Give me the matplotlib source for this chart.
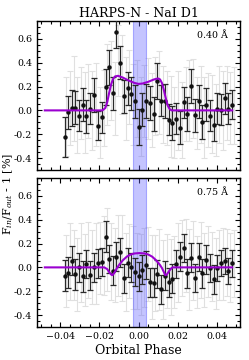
import matplotlib
matplotlib.use("Agg")
import matplotlib.pyplot as plt
from matplotlib.ticker import MultipleLocator, FuncFormatter

plt.rcParams['font.family'] = ['DejaVu Serif']
plt.rcParams['mathtext.fontset'] = 'dejavuserif'

# ---- data ----
phase = [-0.0379, -0.0361, -0.0342, -0.0323, -0.0304, -0.0285, -0.0267, -0.0248,
         -0.0229, -0.0208, -0.0188, -0.0169, -0.0150, -0.0132, -0.0113, -0.0094,
         -0.0075, -0.0056, -0.0038, -0.0017, 0.0002, 0.0019, 0.0039, 0.0058,
         0.0077, 0.0097, 0.0116, 0.0135, 0.0154, 0.0173, 0.0191, 0.0212,
         0.0231, 0.0250, 0.0270, 0.0289, 0.0308, 0.0327, 0.0345, 0.0366,
         0.0385, 0.0404, 0.0422, 0.0441, 0.0460, 0.0481]

top_val = [-0.224, -0.017, 0.017, 0.022, -0.044, 0.047, -0.050, 0.014,
           0.130, -0.127, -0.058, 0.196, 0.360, 0.144, 0.655, 0.401,
           0.119, 0.186, 0.141, 0.075, -0.138, 0.006, 0.080, 0.061,
           -0.030, 0.249, 0.080, 0.080, -0.077, -0.105, -0.069, -0.146,
           0.069, -0.030, 0.205, -0.041, 0.075, -0.096, 0.047, -0.044,
           -0.124, 0.012, 0.006, 0.103, 0.012, 0.047]
top_err = [0.17, 0.14, 0.15, 0.14, 0.13, 0.14, 0.14, 0.13,
           0.14, 0.12, 0.13, 0.15, 0.15, 0.14, 0.13, 0.14,
           0.14, 0.14, 0.14, 0.14, 0.15, 0.14, 0.14, 0.14,
           0.14, 0.15, 0.13, 0.14, 0.13, 0.14, 0.13, 0.14,
           0.13, 0.14, 0.14, 0.14, 0.14, 0.14, 0.14, 0.13,
           0.13, 0.13, 0.13, 0.13, 0.13, 0.12]

bot_val = [-0.070, -0.047, 0.056, -0.056, 0.000, -0.075, 0.028, -0.066,
           0.000, 0.035, 0.045, 0.258, 0.070, -0.028, 0.089, 0.125,
           -0.092, 0.040, 0.000, -0.040, -0.075, -0.020, 0.020, -0.125,
           -0.128, -0.055, -0.183, -0.070, -0.125, -0.095, 0.030, 0.090,
           0.162, -0.050, 0.082, -0.090, 0.086, -0.050, 0.065, -0.005,
           -0.100, -0.006, 0.040, 0.055, -0.028, 0.033]
bot_err = [0.13, 0.13, 0.12, 0.13, 0.12, 0.13, 0.12, 0.12,
           0.12, 0.12, 0.12, 0.13, 0.12, 0.12, 0.12, 0.12,
           0.12, 0.12, 0.12, 0.12, 0.12, 0.12, 0.12, 0.12,
           0.12, 0.12, 0.12, 0.12, 0.12, 0.12, 0.12, 0.12,
           0.12, 0.12, 0.12, 0.12, 0.12, 0.12, 0.12, 0.12,
           0.12, 0.11, 0.11, 0.11, 0.11, 0.11]

grey_phase = [-0.0370, -0.0352, -0.0333, -0.0314, -0.0295, -0.0276, -0.0258, -0.0239,
              -0.0219, -0.0198, -0.0179, -0.0160, -0.0141, -0.0122, -0.0104, -0.0085,
              -0.0066, -0.0047, -0.0028, -0.0008, 0.0011, 0.0029, 0.0049, 0.0068,
              0.0087, 0.0107, 0.0126, 0.0145, 0.0164, 0.0182, 0.0201, 0.0222,
              0.0241, 0.0260, 0.0280, 0.0299, 0.0318, 0.0336, 0.0355, 0.0376,
              0.0395, 0.0413, 0.0432, 0.0451, 0.0470, 0.0490]
grey_top = [-0.05, 0.02, 0.10, -0.04, 0.06, -0.02, 0.08, 0.00,
            0.05, -0.10, 0.02, 0.22, 0.25, 0.10, 0.42, 0.30,
            0.10, 0.20, 0.05, 0.10, -0.05, 0.08, 0.10, 0.00,
            0.12, 0.15, 0.05, 0.02, -0.05, -0.10, 0.00, -0.08,
            0.05, 0.08, 0.10, -0.02, 0.05, -0.06, 0.00, -0.03,
            -0.08, 0.05, 0.00, 0.06, 0.02, 0.04]
grey_top_err = [0.33, 0.31, 0.36, 0.32, 0.30, 0.34, 0.31, 0.33,
                0.35, 0.30, 0.32, 0.34, 0.33, 0.31, 0.30, 0.33,
                0.35, 0.31, 0.34, 0.32, 0.33, 0.30, 0.34, 0.31,
                0.33, 0.35, 0.32, 0.31, 0.34, 0.30, 0.33, 0.32,
                0.31, 0.34, 0.33, 0.30, 0.32, 0.34, 0.31, 0.33,
                0.30, 0.32, 0.33, 0.31, 0.30, 0.32]
grey_bot = [-0.03, 0.05, 0.02, -0.06, 0.04, -0.02, 0.06, 0.00,
            0.03, 0.08, 0.10, 0.15, 0.05, 0.02, 0.10, 0.08,
            -0.04, 0.05, 0.00, -0.03, -0.06, 0.00, 0.03, -0.08,
            -0.05, -0.02, -0.10, -0.03, -0.08, -0.04, 0.04, 0.08,
            0.10, -0.02, 0.06, -0.04, 0.06, -0.02, 0.05, 0.01,
            -0.05, 0.02, 0.03, 0.04, 0.00, 0.03]
grey_bot_err = [0.30, 0.32, 0.29, 0.31, 0.33, 0.30, 0.32, 0.31,
                0.34, 0.30, 0.33, 0.35, 0.32, 0.31, 0.34, 0.36,
                0.33, 0.31, 0.35, 0.32, 0.34, 0.33, 0.31, 0.35,
                0.32, 0.34, 0.33, 0.31, 0.32, 0.30, 0.33, 0.32,
                0.31, 0.34, 0.33, 0.30, 0.32, 0.31, 0.30, 0.29,
                0.30, 0.29, 0.30, 0.28, 0.29, 0.28]

model_top_x = [-0.048, -0.0185, -0.017, -0.016, -0.015, -0.014, -0.013, -0.012,
               -0.0105, -0.008, -0.005, -0.002, 0.000, 0.002, 0.005, 0.008,
               0.010, 0.011, 0.012, 0.013, 0.014, 0.015, 0.016, 0.017, 0.048]
model_top_y = [0.0, 0.0, 0.02, 0.07, 0.15, 0.22, 0.265, 0.285,
               0.29, 0.275, 0.25, 0.23, 0.222, 0.225, 0.24, 0.26,
               0.268, 0.26, 0.23, 0.17, 0.10, 0.04, 0.01, 0.0, 0.0]
model_bot_x = [-0.048, -0.0175, -0.016, -0.015, -0.014, -0.0135, -0.013, -0.012,
               -0.011, -0.010, -0.008, -0.006, -0.004, -0.002, 0.0005, 0.003,
               0.005, 0.007, 0.009, 0.011, 0.012, 0.013, 0.0137, 0.0145,
               0.0155, 0.0165, 0.0175, 0.048]
model_bot_y = [0.0, 0.0, -0.015, -0.04, -0.06, -0.065, -0.06, -0.035,
               -0.005, 0.02, 0.06, 0.09, 0.108, 0.117, 0.12, 0.117,
               0.108, 0.09, 0.06, 0.02, -0.005, -0.04, -0.065, -0.06,
               -0.035, -0.012, 0.0, 0.0]

band = (-0.0026, 0.0036)
labels = ["0.40 Å", "0.75 Å"]
title = "HARPS-N - NaI D1"

# ---- figure ----
fig = plt.figure(figsize=(2.49, 3.60), dpi=100)
ax1 = fig.add_axes([0.1486, 0.5278, 0.8153, 0.4139])
ax2 = fig.add_axes([0.1486, 0.0917, 0.8153, 0.4139])

panels = [
    (ax1, top_val, top_err, grey_top, grey_top_err, model_top_x, model_top_y, labels[0]),
    (ax2, bot_val, bot_err, grey_bot, grey_bot_err, model_bot_x, model_bot_y, labels[1]),
]
for ax, v, e, gv, ge, mx, my, lab in panels:
    ax.errorbar(grey_phase, gv, yerr=ge, fmt='none', ecolor='#e0e0e0',
                elinewidth=0.8, capsize=2, capthick=0.8, zorder=1)
    ax.axvspan(band[0], band[1], facecolor=(0.4, 0.4, 1.0, 0.38),
               edgecolor=(0.4, 0.4, 1.0, 0.5), linewidth=0.8, zorder=2)
    ax.errorbar(phase, v, yerr=e, fmt='o', color='#111111', ecolor='#2a2a2a',
                markersize=2.2, elinewidth=0.9, capsize=2, capthick=0.9, zorder=3)
    ax.plot(mx, my, color='#9a00d0', lw=1.5, zorder=4)
    ax.set_xlim(-0.052, 0.052)
    ax.set_ylim(-0.5, 0.75)
    ax.xaxis.set_major_locator(MultipleLocator(0.02))
    ax.xaxis.set_minor_locator(MultipleLocator(0.005))
    ax.yaxis.set_major_locator(MultipleLocator(0.2))
    ax.yaxis.set_minor_locator(MultipleLocator(0.05))
    ax.yaxis.set_major_formatter(FuncFormatter(lambda y, p: f"{y:.1f}".replace('\u2212', '-')))
    ax.tick_params(which='both', direction='in', top=True, right=True, labelsize=6.8,
                   width=0.8)
    ax.tick_params(which='major', length=3.5)
    ax.tick_params(which='minor', length=2)
    for s in ax.spines.values():
        s.set_linewidth(1.0)
    ax.text(0.94, 0.93, lab, transform=ax.transAxes, ha='right', va='top', fontsize=6.8)

ax1.tick_params(labelbottom=False)
ax1.set_title(title, fontsize=9, pad=3)
ax2.set_xlabel("Orbital Phase", fontsize=9, labelpad=2)
fig.text(0.031, 0.46, r"F$_{in}$/F$_{out}$ - 1 [%]", rotation=90, ha='center', va='center',
         fontsize=8)

fig.savefig("out.png", dpi=100)
